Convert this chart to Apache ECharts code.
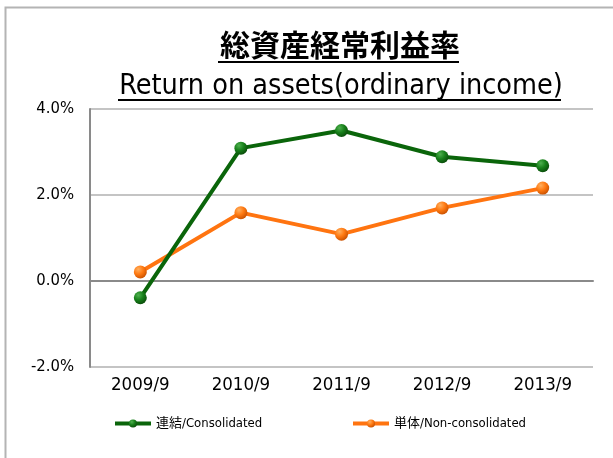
<!DOCTYPE html>
<html>
<head>
<meta charset="utf-8">
<script src="https://cdn.jsdelivr.net/npm/echarts@6/dist/echarts.min.js"></script>
<style>
  html, body { margin: 0; padding: 0; background: #fff; }
  #chart { width: 613px; height: 458px; }
</style>
</head>
<body>
<div id="chart"></div>
<script>
const categories = ['2009/9', '2010/9', '2011/9', '2012/9', '2013/9']
const consolidated = [-0.39, 3.09, 3.50, 2.89, 2.68]
const nonConsolidated = [0.21, 1.59, 1.09, 1.70, 2.16]
const seriesNames = ['連結/Consolidated', '単体/Non-consolidated']
const titleLines = ['総資産経常利益率', 'Return on assets(ordinary income)']

const FONT = '"DejaVu Sans Condensed", "Noto Sans CJK JP", sans-serif'

function ball(light, mid, dark) {
	return new echarts.graphic.RadialGradient(0.35, 0.3, 0.75, [
		{ offset: 0, color: light },
		{ offset: 0.5, color: mid },
		{ offset: 1, color: dark }
	])
}

let myChart = echarts.init(document.getElementById('chart'))
let option = {
	backgroundColor: '#fff',
	animation: false,
	title: [
		{
			text: titleLines[0], left: 335, top: 28, textAlign: 'center',
			textStyle: { fontFamily: FONT, fontSize: 30, fontWeight: 'bold', color: '#000' }
		},
		{
			text: titleLines[1], left: 336, top: 67, textAlign: 'center',
			textStyle: { fontFamily: FONT, fontSize: 28.5, fontWeight: 'normal', color: '#000' }
		}
	],
	graphic: [
		{ type: 'rect', shape: { x: 5.5, y: 7.5, width: 700, height: 500 }, style: { fill: 'none', stroke: '#b4b4b4', lineWidth: 2 }, silent: true },
		{ type: 'line', shape: { x1: 218, y1: 62, x2: 459, y2: 62 }, style: { stroke: '#000', lineWidth: 2 } },
		{ type: 'line', shape: { x1: 118, y1: 100, x2: 561, y2: 100 }, style: { stroke: '#000', lineWidth: 2 } }
	],
	legend: [
		{
			data: [seriesNames[0]], left: 108, top: 412,
			itemWidth: 36, itemHeight: 10,
			lineStyle: { width: 4 },
			textStyle: { fontFamily: FONT, fontSize: 13, color: '#000' }
		},
		{
			data: [seriesNames[1]], left: 346, top: 412,
			itemWidth: 36, itemHeight: 10,
			lineStyle: { width: 4 },
			textStyle: { fontFamily: FONT, fontSize: 13, color: '#000' }
		}
	],
	grid: { left: 90, right: 20, top: 109, bottom: 91 },
	xAxis: {
		type: 'category',
		data: categories,
		boundaryGap: true,
		axisLine: { lineStyle: { color: '#8a8a8a', width: 2 } },
		axisTick: { show: false },
		axisLabel: { fontFamily: FONT, fontSize: 18.5, color: '#000', margin: 9 }
	},
	yAxis: {
		type: 'value',
		min: -2, max: 4, interval: 2,
		axisLine: { show: true, lineStyle: { color: '#8a8a8a', width: 2 } },
		axisTick: { show: false },
		splitLine: { lineStyle: { color: '#b0b0b0', width: 1.5 } },
		axisLabel: {
			fontFamily: FONT, fontSize: 16.5, color: '#000', margin: 16,
			formatter: v => v.toFixed(1) + '%'
		}
	},
	series: [
		{
			name: seriesNames[0], type: 'line', data: consolidated,
			symbol: 'circle', symbolSize: 13,
			lineStyle: { color: '#0a650a', width: 4 },
			itemStyle: { color: ball('#4fb04f', '#17801a', '#0a4a0a') },
			z: 3
		},
		{
			name: seriesNames[1], type: 'line', data: nonConsolidated,
			symbol: 'circle', symbolSize: 13,
			lineStyle: { color: '#ff7410', width: 4 },
			itemStyle: { color: ball('#ffb060', '#ff7a12', '#c85000') },
			z: 2
		}
	]
}
myChart.setOption(option)
</script>
</body>
</html>
